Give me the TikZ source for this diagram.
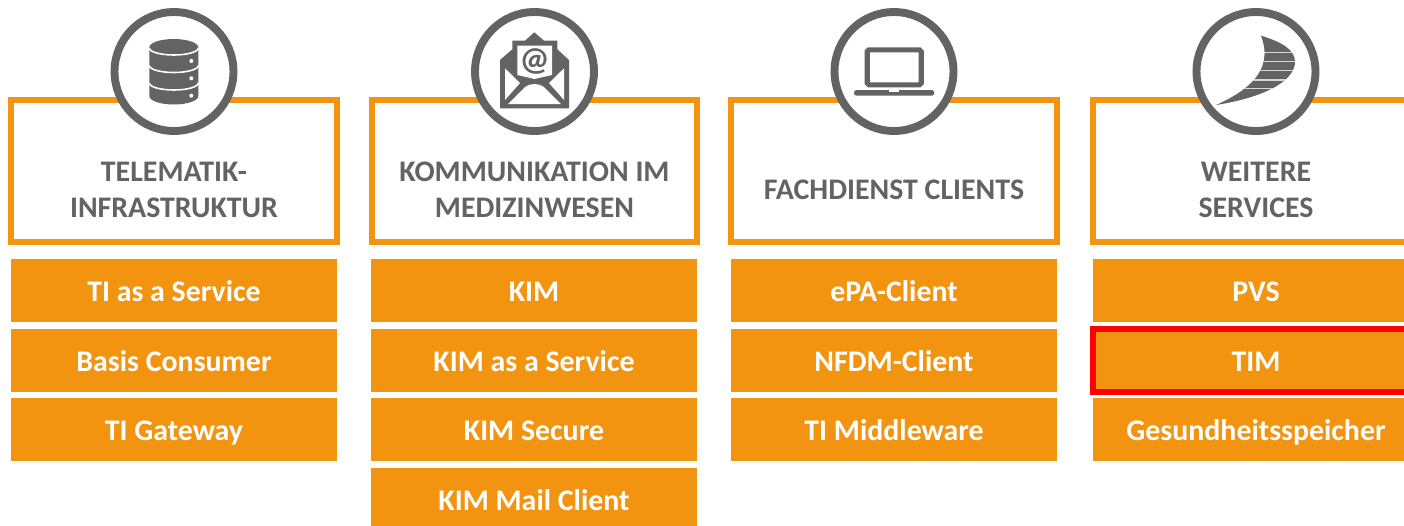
\documentclass[tikz,border=0pt]{standalone}
\usepackage{xcolor}
\usepackage{fontspec}
\setmainfont{Carlito}
\definecolor{tiorange}{HTML}{F39410}
\definecolor{tigray}{HTML}{636363}
\tikzset{
    itembox/.style={fill=tiorange, text=white, minimum width=6.52cm, minimum height=1.26cm, inner sep=0pt,
        font=\fontsize{17}{20}\selectfont\bfseries, text height=14pt, text depth=1pt},
    headbox/.style={draw=tiorange, fill=white, line width=3.4pt, minimum width=6.52cm, minimum height=2.84cm},
    headtext/.style={text=tigray, align=center, inner sep=0pt, font=\fontsize{17}{20.4}\selectfont\bfseries},
    iconring/.style={circle, draw=tigray, fill=white, line width=4.5pt, minimum size=2.38cm, inner sep=0pt},
}
\begin{document}
\begin{tikzpicture}[x=0.02cm,y=-0.02cm]
    \clip (0,0) rectangle (1404,525);

    \node[headbox] (headti) at (174,171) {};
    \node[headbox] (headkim) at (534.5,171) {};
    \node[headbox] (headfach) at (894,171) {};
    \node[headbox] (headmore) at (1256,171) {};

    \node[headtext] (textti) at (174,190) {TELEMATIK-\\INFRASTRUKTUR};
    \node[headtext] (textkim) at (534.5,190) {KOMMUNIKATION IM\\MEDIZINWESEN};
    \node[headtext] (textfach) at (894,190) {FACHDIENST CLIENTS};
    \node[headtext] (textmore) at (1256,190) {WEITERE\\SERVICES};

    \node[iconring] (ringti) at (174,71.5) {};
    \node[iconring] (ringkim) at (534.5,71.5) {};
    \node[iconring] (ringfach) at (894,71.5) {};
    \node[iconring] (ringmore) at (1256,71.5) {};

    % first column
    \node[itembox] (ti1) at (174,290.5) {TI as a Service};
    \node[itembox] (ti2) at (174,360.5) {Basis Consumer};
    \node[itembox] (ti3) at (174,429.5) {TI Gateway};

    % second column
    \node[itembox] (kim1) at (534,290.5) {KIM};
    \node[itembox] (kim2) at (534,360.5) {KIM as a Service};
    \node[itembox] (kim3) at (534,429.5) {KIM Secure};
    \node[itembox] (kim4) at (534,499.5) {KIM Mail Client};

    % third column
    \node[itembox] (fach1) at (894,290.5) {ePA-Client};
    \node[itembox] (fach2) at (894,360.5) {NFDM-Client};
    \node[itembox] (fach3) at (894,429.5) {TI Middleware};

    % fourth column
    \node[itembox] (more1) at (1256,290.5) {PVS};
    \node[itembox, draw=red, line width=3.7pt] (more2) at (1256,360.5) {TIM};
    \node[itembox] (more3) at (1256,429.5) {Gesundheitsspeicher};

    % database
    \fill[tigray] (149.3,47.5) arc (180:360:24.5 and 8.5) -- (198.3,96) arc (0:180:24.5 and 8.5) -- cycle;
    \draw[white, line width=0.9pt] (149.3,48) arc (180:0:24.5 and 7);
    \draw[white, line width=0.9pt] (149.3,65.5) arc (180:0:24.5 and 7);
    \draw[white, line width=0.9pt] (149.3,83) arc (180:0:24.5 and 7);
    \fill[white] (191.3,61) circle (2);
    \fill[white] (191.3,78.3) circle (2);
    \fill[white] (191.3,95.7) circle (2);

    % envelope
    \fill[tigray] (500,60) -- (512.3,49.3) -- (512.3,40.7) -- (525,40.7) -- (534.3,32.3) -- (544,40.7) -- (557.3,40.7) -- (557.3,49.3) -- (569,60) -- (569,108.3) -- (500,108.3) -- cycle;
    \fill[white] (517.3,45.7) -- (552,45.7) -- (552,75) -- (534.5,79) -- (517.3,75) -- cycle;
    \fill[white] (505,68.3) -- (520,83) -- (505,100) -- cycle;
    \fill[white] (564,68.3) -- (549,83) -- (564,100) -- cycle;
    \fill[white] (508,104) -- (525,87) .. controls (530,83) and (539,83) .. (544,87) -- (561,104) -- cycle;
    \node[text=tigray, inner sep=0pt, font=\fontsize{19}{19}\selectfont\bfseries] (atsign) at (534.5,61) {@};

    % laptop
    \draw[tigray, line width=2.9pt, rounded corners=1pt] (867.2,84.8) -- (867.2,49.8) -- (921.2,49.8) -- (921.2,84.8) -- cycle;
    \fill[tigray, rounded corners=1.5pt] (854,90) -- (934.3,90) -- (934.3,95.7) -- (854,95.7) -- cycle;
    \fill[white] (889,90) rectangle (899.3,92);

    % swoosh
    \begin{scope}
        \clip (1261,35.7) .. controls (1282,42) and (1295,50) .. (1295,61.7) .. controls (1295,78) and (1272,96) .. (1216,105) .. controls (1245,92) and (1275,72) .. (1261,35.7) -- cycle;
        \fill[tigray] (1210,30) rectangle (1300,110);
        \draw[white!75!tigray, line width=0.6pt] (1210,52.7) -- (1300,52.7);
        \draw[white!75!tigray, line width=0.6pt] (1210,61.7) -- (1300,61.7);
        \draw[white!75!tigray, line width=0.6pt] (1210,70.7) -- (1300,70.7);
        \draw[white!75!tigray, line width=0.6pt] (1210,80) -- (1300,80);
        \draw[white!75!tigray, line width=0.6pt] (1210,88.3) -- (1300,88.3);
    \end{scope}
\end{tikzpicture}
\end{document}
